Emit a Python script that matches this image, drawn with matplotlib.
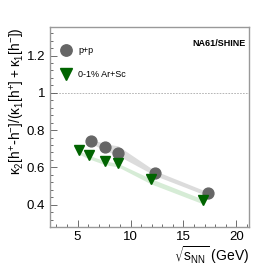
import matplotlib
matplotlib.use("Agg")
import matplotlib.pyplot as plt
from matplotlib.ticker import MultipleLocator

plt.rcParams['font.family'] = ['Liberation Sans', 'DejaVu Sans']

pp_x = [6.3, 7.6, 8.8, 12.3, 17.3]
pp_y = [0.743, 0.711, 0.679, 0.570, 0.460]
pp_hi = [0.752, 0.726, 0.716, 0.582, 0.468]
pp_lo = [0.728, 0.690, 0.664, 0.556, 0.446]

ar_x = [5.1, 6.1, 7.6, 8.8, 11.9, 16.8]
ar_y = [0.693, 0.666, 0.636, 0.625, 0.536, 0.427]
ar_hi = [0.690, 0.664, 0.634, 0.622, 0.540, 0.430]
ar_lo = [0.672, 0.645, 0.614, 0.603, 0.512, 0.405]

fig = plt.figure(figsize=(2.78, 2.68), dpi=100)
ax = fig.add_axes([0.18, 0.153, 0.716, 0.746])

ax.fill_between(pp_x, pp_lo, pp_hi, color='#dcdcdc', lw=0, zorder=1)
ax.fill_between(ar_x, ar_lo, ar_hi, color='#d6ecd6', lw=0, zorder=1)
ax.plot(pp_x, pp_y, 'o', color='#666666', ms=7.8, mec='#666666', zorder=3, label='p+p')
ax.plot(ar_x, ar_y, 'v', color='#006400', ms=7.8, mec='#006400', zorder=3, label='0-1% Ar+Sc')

ax.axhline(1.0, color='#aaaaaa', lw=0.6, ls=(0, (2, 1.5)), zorder=0)

ax.set_xlim(2.4, 21.2)
ax.set_ylim(0.28, 1.353)
ax.xaxis.set_major_locator(MultipleLocator(5))
ax.xaxis.set_minor_locator(MultipleLocator(1))
ax.yaxis.set_major_locator(MultipleLocator(0.2))
ax.yaxis.set_minor_locator(MultipleLocator(0.04))
ax.set_yticks([0.4, 0.6, 0.8, 1.0, 1.2])
ax.set_yticklabels(['0.4', '0.6', '0.8', '1', '1.2'])
ax.tick_params(which='both', direction='in', colors='#555555', labelcolor='black', labelsize=9.5, width=0.6)
ax.tick_params(which='major', length=5)
ax.tick_params(which='minor', length=2.5)
ax.tick_params(axis='x', pad=3)
for s in ax.spines.values():
    s.set_color('#999999')
    s.set_linewidth(1.0)

ax.set_ylabel(r'$\mathregular{\kappa_2[h^{+}\text{-}h^{-}]/(\kappa_1[h^{+}]+\kappa_1[h^{-}])}$', fontsize=9.8,
              loc='top')
ax.yaxis.set_label_coords(-0.115, 1.0)
ax.set_xlabel(r'$\sqrt{\mathregular{s_{NN}}}$ (GeV)', fontsize=10, loc='right', labelpad=1)

ax.text(0.985, 0.92, 'NA61/SHINE', transform=ax.transAxes, ha='right', va='center',
        fontsize=6.5, fontweight='bold')

ax.legend(loc='upper left', bbox_to_anchor=(0.0, 0.95), frameon=False, fontsize=6.5,
          handletextpad=0.6, labelspacing=1.7, borderpad=0.5, handlelength=1.5, markerscale=1.05)

fig.savefig('out.png', dpi=100)
